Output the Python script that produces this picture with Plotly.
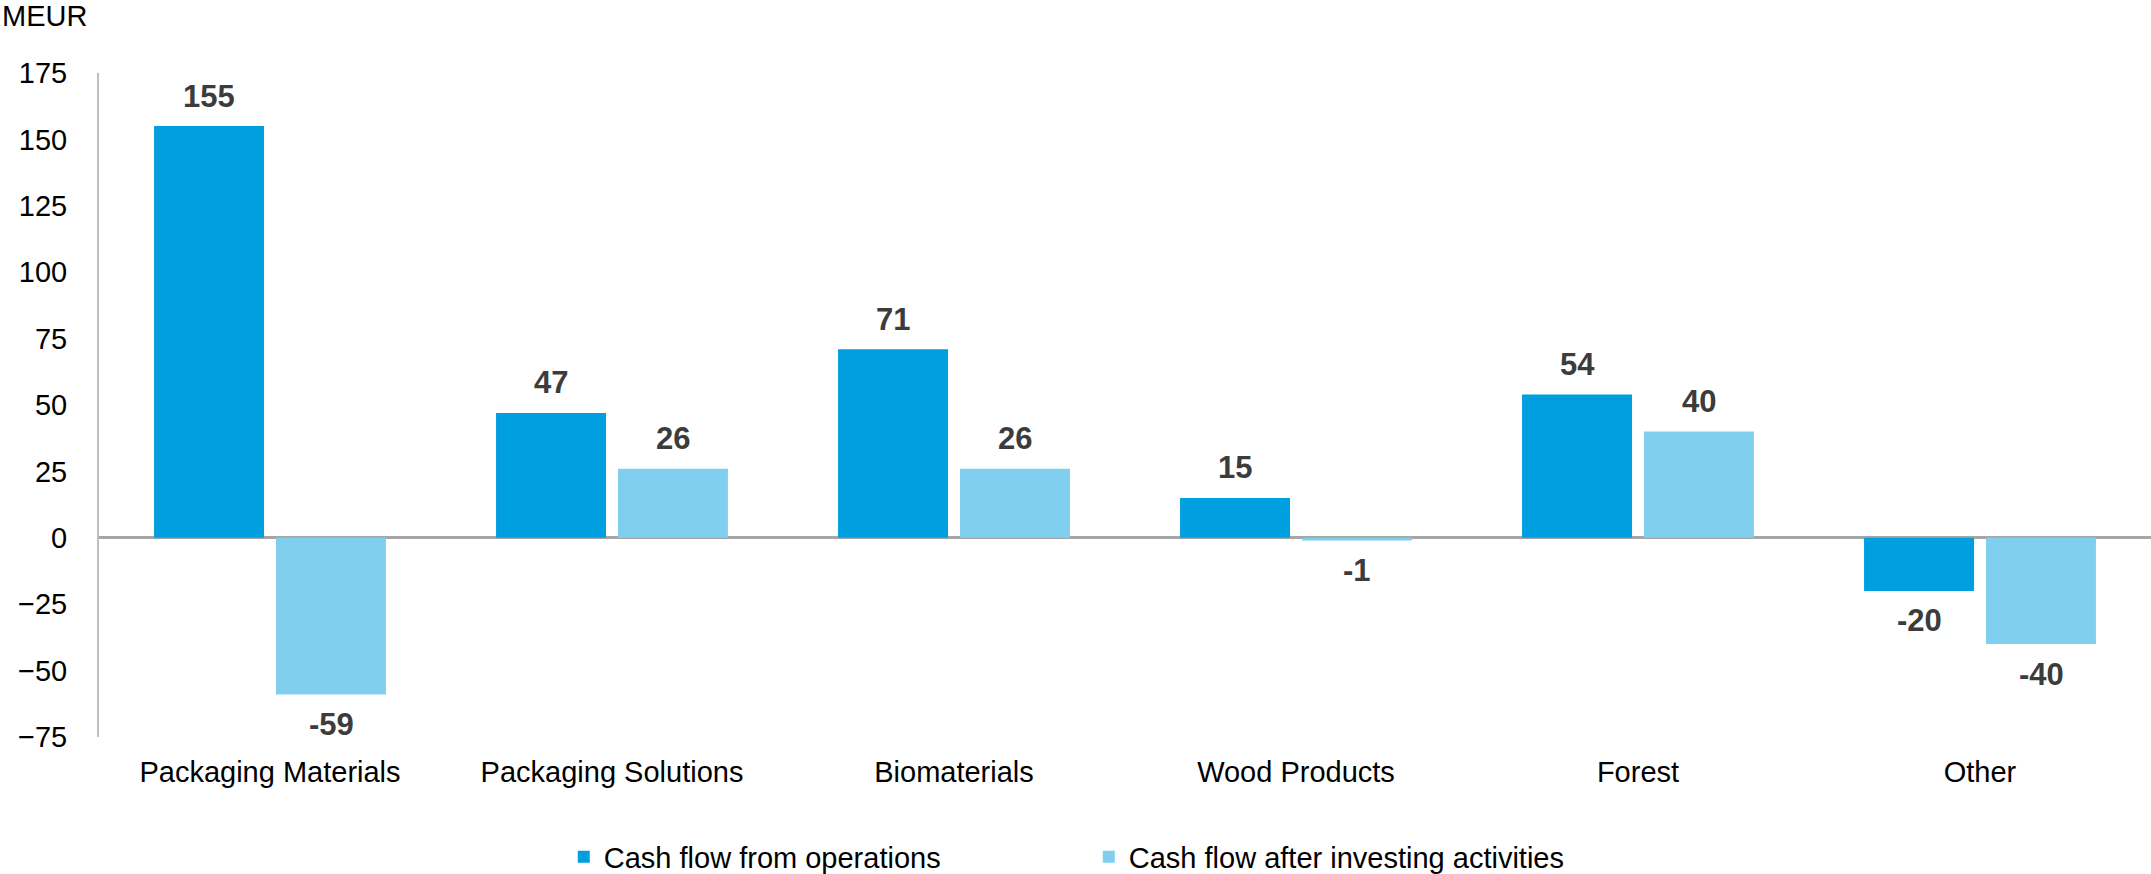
import plotly.graph_objects as go

categories = ["Packaging Materials", "Packaging Solutions", "Biomaterials", "Wood Products", "Forest", "Other"]
operations = [155, 47, 71, 15, 54, -20]
after_investing = [-59, 26, 26, -1, 40, -40]
series_names = ["Cash flow from operations", "Cash flow after investing activities"]
y_ticks = [175, 150, 125, 100, 75, 50, 25, 0, -25, -50, -75]

DARK = "#009FDF"
LIGHT = "#80CFEE"
FONT = "Liberation Sans, Arial, sans-serif"
LABEL_COLOR = "#3C3C3C"

fig = go.Figure()
fig.add_trace(go.Bar(x=categories, y=operations, name=series_names[0],
                     marker=dict(color=DARK, line=dict(width=0))))
fig.add_trace(go.Bar(x=categories, y=after_investing, name=series_names[1],
                     marker=dict(color=LIGHT, line=dict(width=0))))

# value labels
for vals, shift in [(operations, -61), (after_investing, 61)]:
    for c, v in zip(categories, vals):
        fig.add_annotation(x=c, y=v, xref="x", yref="y", text=f"<b>{v}</b>",
                           showarrow=False, xshift=shift, yshift=30 if v >= 0 else -30,
                           yanchor="middle", xanchor="center",
                           font=dict(family=FONT, size=31, color=LABEL_COLOR))

fig.add_annotation(text="MEUR", xref="paper", yref="paper", x=0, y=1, xshift=-99, yshift=57,
                   xanchor="left", yanchor="middle", showarrow=False,
                   font=dict(family=FONT, size=29, color="#000000"))

fig.update_layout(
    width=2151, height=874,
    margin=dict(l=99, r=0, t=73, b=137, autoexpand=False),
    paper_bgcolor="white", plot_bgcolor="white",
    barmode="group", bargap=0.287, bargroupgap=0.098,
    font=dict(family=FONT, size=29, color="#000000"),
    showlegend=True,
    legend=dict(orientation="h", xref="container", x=0.2621, xanchor="left",
                yref="container", y=0.0195, yanchor="middle",
                font=dict(family=FONT, size=29, color="#000000"),
                entrywidth=480, entrywidthmode="pixels", traceorder="normal"),
)
fig.update_xaxes(showline=False, showgrid=False, ticks="", tickfont=dict(size=29),
                 ticklabelstandoff=15, automargin=False)
fig.update_yaxes(range=[-75, 175], tickvals=y_ticks, showgrid=False,
                 showline=True, linecolor="#BFBFBF", linewidth=2,
                 zeroline=True, zerolinecolor="#A6A6A6", zerolinewidth=3,
                 ticks="", ticklabelstandoff=24, tickfont=dict(size=29), automargin=False)

fig.write_html("out.html", config={"displayModeBar": False},
               post_script="document.body.style.margin='0';document.body.style.overflow='hidden';")
